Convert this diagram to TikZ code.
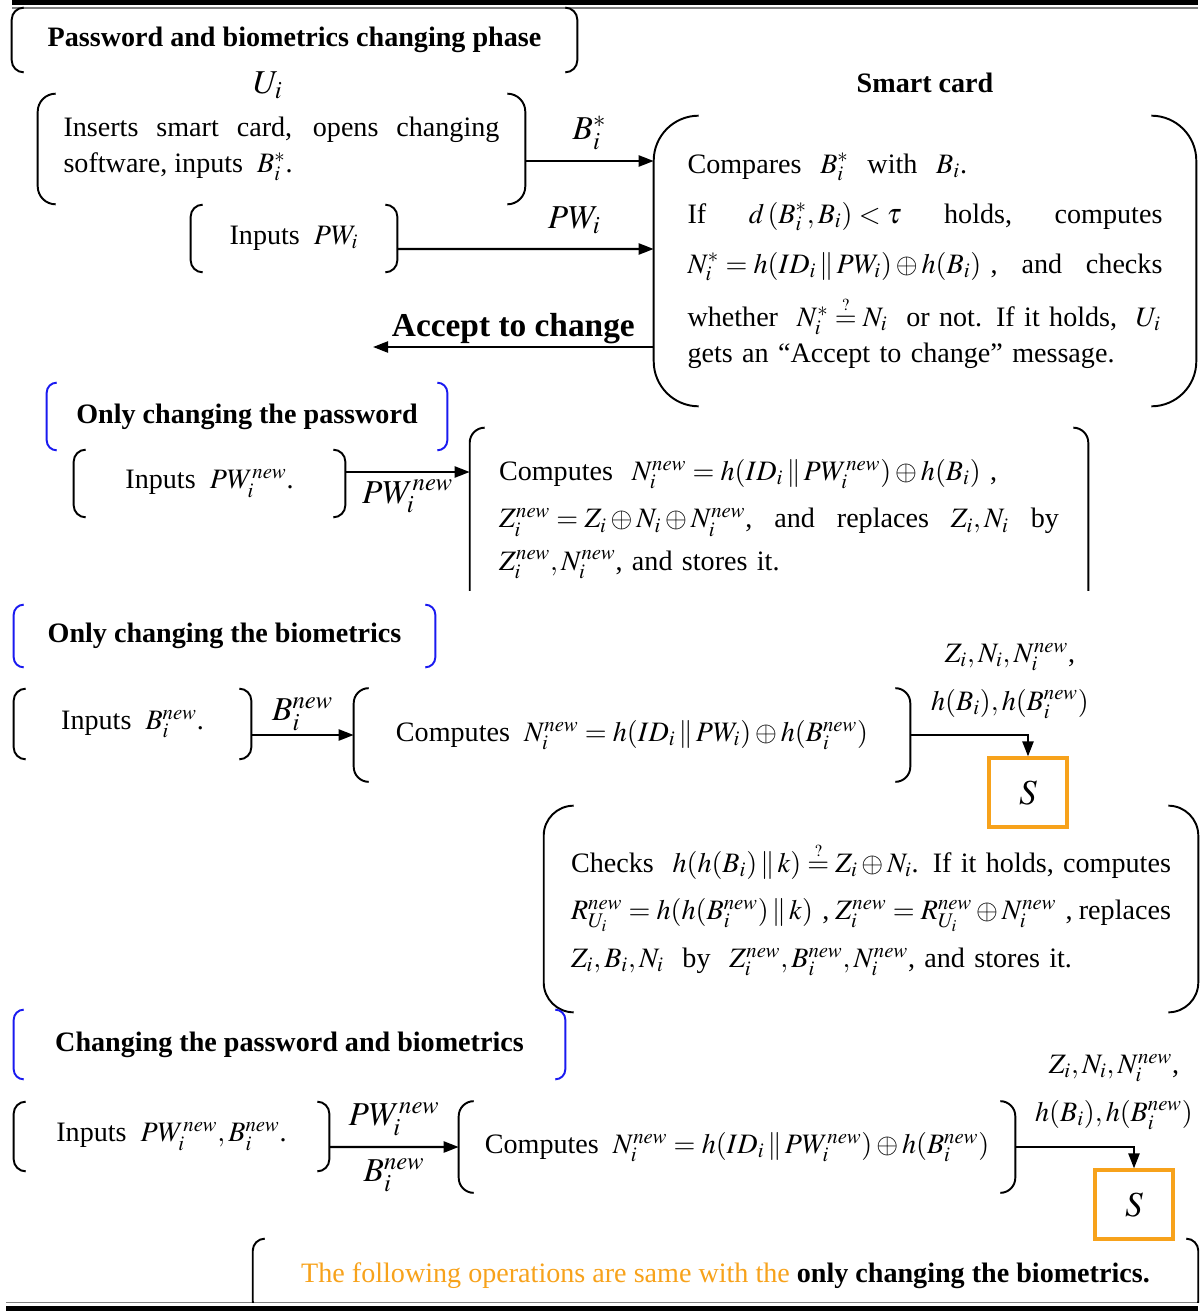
\documentclass[tikz,border=0pt]{standalone}
\usepackage{amsmath}
\usepackage{mathptmx}
\usepackage{fontspec}
\setmainfont{Liberation Serif}
\usepackage{xcolor}
\definecolor{tangerine}{HTML}{F7A21B}
\definecolor{royal}{HTML}{1A1AF0}
\usepackage{tikz}
\usetikzlibrary{arrows.meta,calc}
\tikzset{
  >={Triangle[length=3mm,width=2.2mm]},
  txt/.style  ={font=\fontsize{16}{20.5}\selectfont,inner sep=0pt},
  hdr/.style  ={font=\fontsize{16}{20}\selectfont\bfseries,inner sep=0pt},
  lbl/.style  ={font=\fontsize{19}{22}\selectfont,inner sep=2pt},
  brk/.style  ={line width=1.1pt},
  flow/.style ={->,line width=1.3pt},
  sbox/.style ={draw=tangerine,line width=1.8pt,font=\fontsize{20}{24}\selectfont,
                minimum width=1.56cm,minimum height=1.38cm},
}
% two round brackets left and right of a node
\newcommand\bracketpair[3][black]{%
  \draw[brk,draw=#1,rounded corners=#3] ([xshift=#3]#2.north west) -- (#2.north west)
    -- (#2.south west) -- ([xshift=#3]#2.south west);
  \draw[brk,draw=#1,rounded corners=#3] ([xshift=-#3]#2.north east) -- (#2.north east)
    -- (#2.south east) -- ([xshift=-#3]#2.south east);}
\newcommand\qeq{\overset{\scriptscriptstyle ?}{=}}

\begin{document}
\begin{tikzpicture}[x=0.02cm,y=-0.02cm]
\useasboundingbox (0,0) rectangle (1201,1311);
% rules
\draw[line width=2.8pt] (12,2.5) -- (1198,2.5);
\draw[line width=0.7pt,gray] (12,8) -- (1198,8);
\draw[line width=0.7pt,gray] (6,1302.5) -- (1198,1302.5);
\draw[line width=2.8pt] (6,1308.5) -- (1198,1308.5);
% phase header
\node[hdr,minimum width=11.3cm,minimum height=1.28cm] (ttl) at (294.5,40) {Password and biometrics changing phase};
\bracketpair{ttl}{2.4mm}
% user side
\node[lbl] (ui) at (268,85) {$U_i$};
\node[txt,minimum width=9.74cm,minimum height=2.2cm,text width=8.72cm,align=justify] (ins) at (281.5,149)
  {Inserts smart card, opens changing\linebreak software, inputs \ $B_i^*$.};
\bracketpair{ins}{3.6mm}
\node[txt,minimum width=4.12cm,minimum height=1.34cm] (inpw) at (294,238.5) {Inputs \ $PW_i$};
\bracketpair{inpw}{2.4mm}
% smart card
\node[hdr] (sclbl) at (925,83) {Smart card};
\node[txt,minimum width=10.84cm,minimum height=5.8cm,text width=9.5cm,align=left,
      font=\fontsize{16}{28.5}\selectfont] (sc) at (925,261)
  {Compares \ $B_i^*$ \ with \ $B_i$.\\
   If\hfill $d\left(B_i^*,B_i\right)<\tau$\hfill holds,\hfill computes\\
   $N_i^*=h(ID_i\,\|\,PW_i)\oplus h(B_i)$ ,\hfill and\hfill checks\\[2pt]
   whether \ $N_i^*\qeq N_i$ \ or not. If it holds, \ $U_i$\\[-8pt]
   gets an “Accept to change” message.};
\bracketpair{sc}{9mm}
\draw[flow] ($(ins.east)+(0,12)$) -- node[lbl,above=4pt]{$B_i^*$} ($(sc.west)+(0,-100)$);
\draw[flow] ($(inpw.east)+(0,10.5)$) -- node[lbl,above=6pt,pos=0.69]{$PW_i$} ($(sc.west)+(0,-12)$);
\coordinate (acc) at (373,347);
\draw[flow] ($(sc.west)+(0,86)$) -- node[font=\fontsize{19}{22}\selectfont\bfseries,above,inner sep=1pt]{Accept to change} (acc);
% only changing the password
\node[hdr,minimum width=8cm,minimum height=1.34cm] (op) at (247,416.5) {Only changing the password};
\bracketpair[royal]{op}{2mm}
\node[txt,minimum width=5.42cm,minimum height=1.34cm] (inpwn) at (209.5,483.5) {Inputs \ $PW_i^{new}$.};
\bracketpair{inpwn}{2.4mm}
\node[txt,minimum width=12.36cm,minimum height=3.64cm,text width=11.2cm,align=left,
      font=\fontsize{16}{27}\selectfont] (cp) at (779,519)
  {Computes \ $N_i^{new}=h(ID_i\,\|\,PW_i^{new})\oplus h(B_i)$ ,\\
   $Z_i^{new}=Z_i\oplus N_i\oplus N_i^{new}$,\hfill and\hfill replaces\hfill $Z_i,N_i$\hfill by\\[-3pt]
   $Z_i^{new},N_i^{new}$, and stores it.};
\begin{scope}
\clip (0,0) rectangle (1201,590);
\bracketpair{cp}{3mm}
\end{scope}
\draw[flow] ($(inpwn.east)+(0,-11.5)$) -- node[lbl,below=2pt]{$PW_i^{new}$} ($(cp.west)+(0,-47)$);
% only changing the biometrics
\node[hdr,minimum width=8.42cm,minimum height=1.24cm] (ob) at (224.5,636) {Only changing the biometrics};
\bracketpair[royal]{ob}{2mm}
\node[txt,minimum width=4.74cm,minimum height=1.4cm] (inb) at (132.5,724) {Inputs \ $B_i^{new}$.};
\bracketpair{inb}{2.4mm}
\node[txt,minimum width=11.12cm,minimum height=1.86cm] (cb) at (632,735)
  {Computes \ $N_i^{new}=h(ID_i\,\|\,PW_i)\oplus h(B_i^{new})$};
\bracketpair{cb}{3mm}
\node[sbox] (s1) at (1028,792.5) {$S$};
\node[txt,align=center,font=\fontsize{16}{27}\selectfont] (m1) at (1010,681)
  {$Z_i,N_i,N_i^{new}$,\\ $h(B_i),h(B_i^{new})$};
\draw[flow] ($(inb.east)+(0,11)$) -- node[lbl,above]{$B_i^{new}$} (cb.west);
\draw[flow] (cb.east) -| (s1.north);
\node[txt,minimum width=13.08cm,minimum height=4.12cm,text width=12cm,align=left,
      font=\fontsize{16}{27}\selectfont] (chk) at (871,909)
  {Checks \ $h(h(B_i)\,\|\,k)\qeq Z_i\oplus N_i$. If it holds, computes\\
   $R_{U_i}^{new}=h(h(B_i^{new})\,\|\,k)$ ,\hfill $Z_i^{new}=R_{U_i}^{new}\oplus N_i^{new}$ ,\hfill replaces\\
   $Z_i,B_i,N_i$ \ by \ $Z_i^{new},B_i^{new},N_i^{new}$, and stores it.};
\bracketpair{chk}{6mm}
% changing both
\node[hdr,minimum width=11.02cm,minimum height=1.38cm] (pb) at (289.5,1044.5) {Changing the password and biometrics};
\bracketpair[royal]{pb}{2mm}
\node[txt,minimum width=6.3cm,minimum height=1.38cm] (inpb) at (171.5,1136.5) {Inputs \ $PW_i^{new},B_i^{new}$.};
\bracketpair{inpb}{2.4mm}
\node[txt,minimum width=11.12cm,minimum height=1.82cm] (cpb) at (737,1147)
  {Computes \ $N_i^{new}=h(ID_i\,\|\,PW_i^{new})\oplus h(B_i^{new})$};
\bracketpair{cpb}{3mm}
\node[sbox] (s2) at (1134,1204.5) {$S$};
\node[txt,align=center,font=\fontsize{16}{27}\selectfont] (m2) at (1114,1092)
  {$Z_i,N_i,N_i^{new}$,\\ $h(B_i),h(B_i^{new})$};
\draw[flow] ($(inpb.east)+(0,10.5)$) -- node[lbl,above=4pt]{$PW_i^{new}$} node[lbl,below=4pt]{$B_i^{new}$} (cpb.west);
\draw[flow] (cpb.east) -| (s2.north);
\node[txt,minimum width=18.9cm,minimum height=1.48cm] (fin) at (725.5,1276)
  {\textcolor{tangerine}{The following operations are same with the} \textbf{only changing the biometrics.}};
\begin{scope}
\clip (0,0) rectangle (1201,1302);
\bracketpair{fin}{2.4mm}
\end{scope}
\end{tikzpicture}
\end{document}
